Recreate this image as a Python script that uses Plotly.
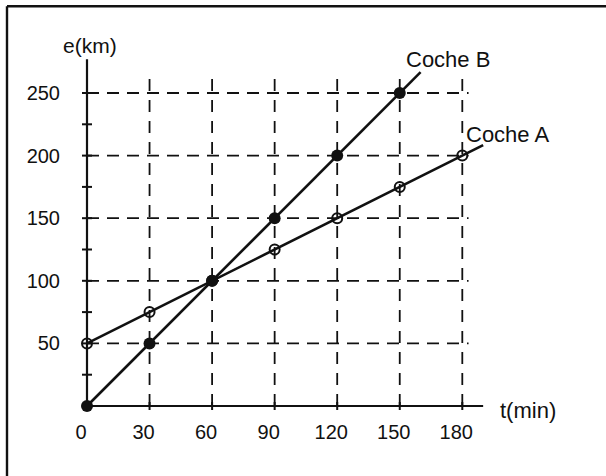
import plotly.graph_objects as go

# ---- data ----
t_A = [0, 30, 60, 90, 120, 150, 180]
e_A = [50, 75, 100, 125, 150, 175, 200]
t_B = [0, 30, 60, 90, 120, 150]
e_B = [0, 50, 100, 150, 200, 250]
end_A = [190, 208.3]      # where line A stops
end_B = [160, 266.7]      # where line B stops

x_tickvals = [0, 30, 60, 90, 120, 150, 180]
x_ticktext = ["0", "30", "60", "90", "120", "150", "180"]
y_tickvals = [50, 100, 150, 200, 250]
y_ticktext = ["50", "100", "150", "200", "250"]
y_marks = [25, 50, 75, 100, 125, 150, 175, 200, 225, 250]
x_grid = [30, 60, 90, 120, 150, 180]
y_grid = [50, 100, 150, 200, 250]
x_axis_end = 190
y_axis_end = 277
v_grid_top = 265
h_grid_end = 183

# ---- geometry (pixels) ----
W, H = 606, 476
ox, sx = 87.0, 2.085     # px of t=0, px per minute
oy, sy = 406.0, 1.252    # px of e=0, px per km
xr = [(0 - ox) / sx, (W - ox) / sx]
yr = [-(H - oy) / sy, oy / sy]

FONT = "Liberation Sans, Arial, Helvetica, sans-serif"
INK = "#111111"

fig = go.Figure()

# lines
fig.add_trace(go.Scatter(x=t_A + [end_A[0]], y=e_A + [end_A[1]], mode="lines",
                         line=dict(color=INK, width=2.6), hoverinfo="skip"))
fig.add_trace(go.Scatter(x=t_B + [end_B[0]], y=e_B + [end_B[1]], mode="lines",
                         line=dict(color=INK, width=2.6), hoverinfo="skip"))
# markers
fig.add_trace(go.Scatter(x=t_A, y=e_A, mode="markers", cliponaxis=False,
                         marker=dict(symbol="circle-open", size=10, color=INK,
                                     line=dict(width=2, color=INK))))
fig.add_trace(go.Scatter(x=t_B, y=e_B, mode="markers", cliponaxis=False,
                         marker=dict(symbol="circle", size=12, color=INK)))

shapes = []
dash_h = "12px,8px"
dash_v = "12px,9px"
for v in x_grid:
    shapes.append(dict(type="line", xref="x", yref="y", x0=v, x1=v, y0=0, y1=v_grid_top,
                       line=dict(color=INK, width=1.8, dash=dash_v), layer="below"))
for v in y_grid:
    shapes.append(dict(type="line", xref="x", yref="y", x0=0, x1=h_grid_end, y0=v, y1=v,
                       line=dict(color=INK, width=1.8, dash=dash_h), layer="below"))
# axes
shapes.append(dict(type="line", xref="x", yref="y", x0=0, x1=0, y0=0, y1=y_axis_end,
                   line=dict(color=INK, width=2.2)))
shapes.append(dict(type="line", xref="x", yref="y", x0=0, x1=x_axis_end, y0=0, y1=0,
                   line=dict(color=INK, width=2.2)))
# crossing tick marks
for v in y_marks:
    shapes.append(dict(type="line", xref="x", yref="y", xsizemode="pixel", xanchor=0,
                       x0=-5, x1=5, y0=v, y1=v, line=dict(color=INK, width=2)))
for v in x_grid:
    shapes.append(dict(type="line", xref="x", yref="y", ysizemode="pixel", yanchor=0,
                       y0=-4, y1=4, x0=v, x1=v, line=dict(color=INK, width=2)))
# frame (top and left edges)
shapes.append(dict(type="line", xref="paper", yref="paper", x0=7 / W, x1=1.0,
                   y0=1 - 6.2 / H, y1=1 - 6.2 / H, line=dict(color=INK, width=2.4)))
shapes.append(dict(type="line", xref="paper", yref="paper", x0=7 / W, x1=7 / W,
                   y0=0, y1=1 - 6.2 / H, line=dict(color=INK, width=2.4)))

annotations = [
    dict(x=1.2, y=288.3, text="e(km)", font=dict(size=21)),
    dict(x=173.1, y=276.4, text="Coche B", font=dict(size=22)),
    dict(x=201.7, y=216.5, text="Coche A", font=dict(size=22)),
    dict(x=211.5, y=-3.2, text="t(min)", font=dict(size=22)),
]
for a in annotations:
    a.update(xref="x", yref="y", showarrow=False, xanchor="center", yanchor="middle")
    a["font"].update(family=FONT, color=INK)

fig.update_layout(
    width=W, height=H, margin=dict(l=0, r=0, t=0, b=0),
    paper_bgcolor="white", plot_bgcolor="white", showlegend=False,
    shapes=shapes, annotations=annotations,
    font=dict(family=FONT, color=INK),
    xaxis=dict(range=xr, anchor="free", position=(H - oy) / H,
               tickvals=x_tickvals, ticktext=x_ticktext, showgrid=False, zeroline=False,
               showline=False, ticks="", tickfont=dict(size=20, family=FONT, color=INK),
               ticklabelstandoff=12, ticklabelshift=-6, fixedrange=True),
    yaxis=dict(range=yr, anchor="free", position=ox / W,
               tickvals=y_tickvals, ticktext=y_ticktext, showgrid=False, zeroline=False,
               showline=False, ticks="", tickfont=dict(size=20, family=FONT, color=INK),
               ticklabelstandoff=27, fixedrange=True),
)

fig.write_html(
    "out.html",
    config={"displayModeBar": False},
    post_script="document.body.style.margin='0';document.body.style.overflow='hidden';",
)
